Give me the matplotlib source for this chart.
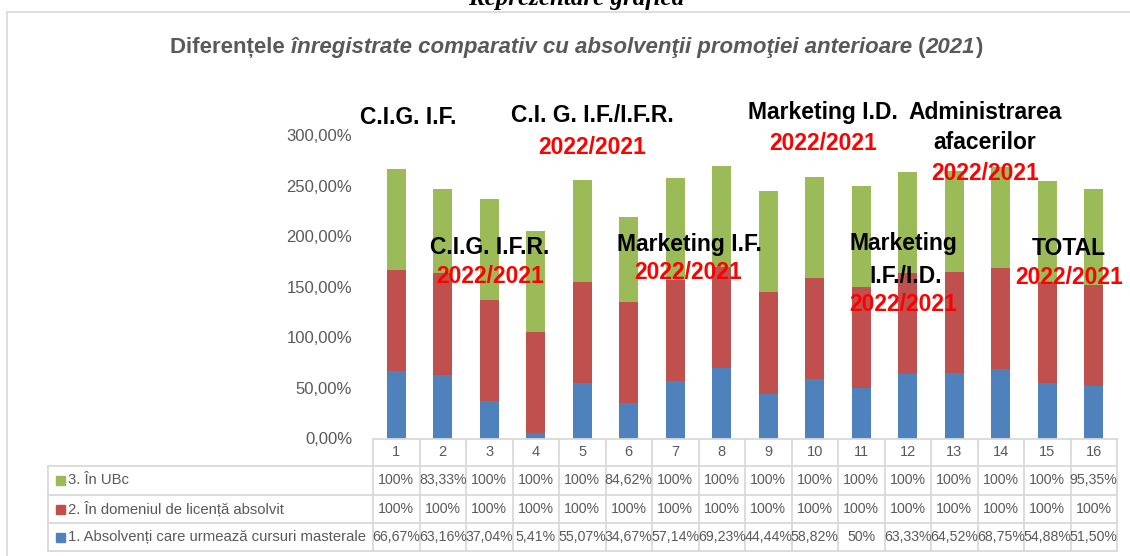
import numpy as np
import matplotlib
matplotlib.use('Agg')
import matplotlib.pyplot as plt
from matplotlib.lines import Line2D
from matplotlib.patches import Rectangle
from matplotlib.transforms import blended_transform_factory

plt.rcParams['font.family'] = ['Liberation Sans', 'DejaVu Sans']

# Date citite din tabelul graficului
categorii = [str(i) for i in range(1, 17)]
masterale = [66.67, 63.16, 37.04, 5.41, 55.07, 34.67, 57.14, 69.23,
             44.44, 58.82, 50.00, 63.33, 64.52, 68.75, 54.88, 51.50]
domeniu = [100, 100, 100, 100, 100, 100, 100, 100,
           100, 100, 100, 100, 100, 100, 100, 100]
ubc = [100, 83.33, 100, 100, 100, 84.62, 100, 100,
       100, 100, 100, 100, 100, 100, 100, 95.35]
serii = ['1. Absolvenți care urmează cursuri masterale',
         '2. În domeniul de licență absolvit',
         '3. În UBc']
culori = ['#4F81BD', '#C0504D', '#9BBB59']

# Etichetele programelor scrise peste grafic: (x, y, text, culoare)
etichete = [
    (1.25, 317, 'C.I.G. I.F.', 'black'),
    (5.21, 319, 'C.I. G. I.F./I.F.R.', 'black'),
    (5.21, 288, '2022/2021', 'red'),
    (3.02, 189, 'C.I.G. I.F.R.', 'black'),
    (3.02, 160, '2022/2021', 'red'),
    (7.30, 192, 'Marketing I.F.', 'black'),
    (7.27, 164, '2022/2021', 'red'),
    (10.18, 322, 'Marketing I.D.', 'black'),
    (10.18, 292, '2022/2021', 'red'),
    (13.66, 322, 'Administrarea', 'black'),
    (13.66, 293, 'afacerilor', 'black'),
    (13.66, 262, '2022/2021', 'red'),
    (11.90, 193, 'Marketing', 'black'),
    (11.96, 160, 'I.F./I.D.', 'black'),
    (11.90, 132, '2022/2021', 'red'),
    (15.47, 188, 'TOTAL', 'black'),
    (15.47, 159, '2022/2021', 'red'),
]

W, H = 1130, 556
gri = '#595959'
gri_linii = '#D9D9D9'


def fx(px):
    return px / W


def fy(py):
    return 1 - py / H


def fmt(v):
    if float(v).is_integer():
        return '%d%%' % v
    return ('%.2f' % v).replace('.', ',') + '%'


fig = plt.figure(figsize=(W / 100, H / 100), dpi=100)

# chenarul exterior
fig.add_artist(Line2D([fx(7), fx(W)], [fy(12), fy(12)], color=gri_linii, lw=1.2,
                      transform=fig.transFigure))
fig.add_artist(Line2D([fx(7), fx(7)], [fy(12), fy(H)], color=gri_linii, lw=1.2,
                      transform=fig.transFigure))

fig.text(fx(576), fy(5), 'Reprezentare grafică', family='Liberation Serif',
         weight='bold', style='italic', fontsize=18, ha='center', va='baseline')

ax = fig.add_axes([fx(373), fy(438.5), fx(1117) - fx(373), fy(135) - fy(438.5)])
x = np.arange(1, 17)
ax.bar(x, masterale, 0.4, color=culori[0])
ax.bar(x, domeniu, 0.4, bottom=masterale, color=culori[1])
ax.bar(x, ubc, 0.4, bottom=np.add(masterale, domeniu), color=culori[2])
ax.set_xlim(0.5, 16.5)
ax.set_ylim(0, 300)
ax.set_xticks([])
yt = np.arange(0, 301, 50)
ax.set_yticks(yt)
ax.set_yticklabels([('%.2f' % v).replace('.', ',') + '%' for v in yt])
ax.tick_params(axis='y', length=0, pad=15, labelsize=12, labelcolor=gri)
for s in ax.spines.values():
    s.set_visible(False)

for xi, yi, t, c in etichete:
    ax.text(xi, yi, t, color=c, fontsize=16.5, weight='bold', ha='center',
            va='center', clip_on=False)

# tabelul de date
tr = blended_transform_factory(ax.transData, fig.transFigure)
margini = np.arange(0.5, 17, 1)
rand_y = [439, 466, 495, 523, 551]
kw = dict(color=gri_linii, lw=1.3, solid_capstyle='projecting')
fig.add_artist(Line2D([margini[0], margini[-1]], [fy(rand_y[0])] * 2, transform=tr, **kw))
for ry in rand_y[1:]:
    fig.add_artist(Line2D([fx(48), fx(1117)], [fy(ry)] * 2,
                          transform=fig.transFigure, **kw))
fig.add_artist(Line2D([fx(48), fx(48)], [fy(466), fy(551)],
                      transform=fig.transFigure, **kw))
for m in margini:
    fig.add_artist(Line2D([m, m], [fy(439), fy(551)], transform=tr, **kw))

for i, c in enumerate(categorii):
    fig.text(x[i], fy(452.5), c, transform=tr, ha='center', va='center',
             fontsize=10.5, color=gri)

randuri = [(serii[2], ubc, culori[2]), (serii[1], domeniu, culori[1]),
           (serii[0], masterale, culori[0])]
for k, (nume, vals, col) in enumerate(randuri):
    yc = (rand_y[k + 1] + rand_y[k + 2]) / 2
    fig.add_artist(Rectangle((fx(56), fy(yc + 4.5)), fx(9), 9 / H, color=col,
                             transform=fig.transFigure))
    fig.text(fx(68), fy(yc), nume, ha='left', va='center', fontsize=10.7, color=gri)
    for i, v in enumerate(vals):
        fig.text(x[i], fy(yc), fmt(v), transform=tr, ha='center', va='center',
                 fontsize=10.2, color=gri)

# titlul cu parti cursive
bucati = [('Diferențele ', 'normal'),
          ('înregistrate comparativ cu absolvenţii promoţiei anterioare', 'italic'),
          (' (', 'normal'), ('2021', 'italic'), (')', 'normal')]
fig.canvas.draw()
r = fig.canvas.get_renderer()
texte = []
for t, st in bucati:
    texte.append(fig.text(0, fy(53), t, style=st, weight='bold', fontsize=16,
                          color=gri, ha='left', va='baseline'))
lat = [tt.get_window_extent(r).width for tt in texte]
start = 576 - sum(lat) / 2
for tt, w in zip(texte, lat):
    tt.set_x(fx(start))
    start += w

fig.savefig('out.png', dpi=100)
